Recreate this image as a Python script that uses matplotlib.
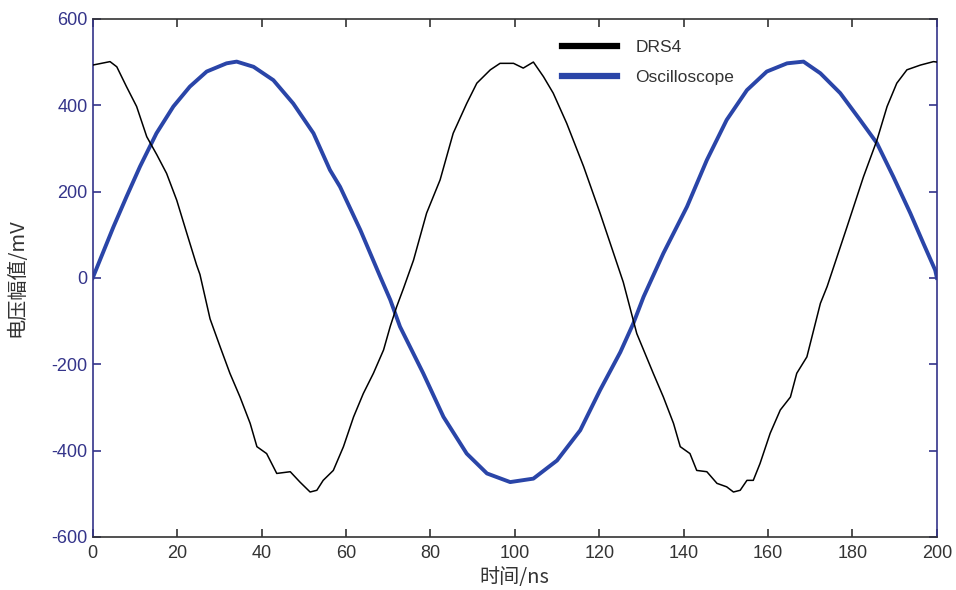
import matplotlib
matplotlib.use("Agg")
import matplotlib.pyplot as plt

# DRS4 trace (time in ns, amplitude in mV)
drs4_t = [0, 4.1, 5.7, 8.0, 10.4, 12.8, 15.2, 17.5, 19.9, 22.3, 24.6, 25.4,
          27.8, 30.2, 32.5, 34.9, 37.3, 38.9, 41.2, 43.6, 46.8, 49.1, 51.5, 53.1,
          54.6, 57.0, 59.4, 61.8, 64.1, 66.5, 68.9, 70.5, 72.0, 73.6, 76.0, 79.1,
          82.3, 85.4, 88.6, 91.0, 94.2, 96.5, 99.7, 102.0, 104.4, 106.8, 109.1,
          112.3, 116.3, 120.2, 123.4, 125.7, 128.9, 132.8, 135.2, 137.6, 139.2,
          141.5, 143.1, 145.5, 147.9, 150.2, 151.8, 153.4, 155.0, 156.5, 158.1,
          160.5, 162.9, 165.3, 166.8, 169.2, 170.8, 172.4, 174.0, 178.7, 182.6,
          185.8, 188.2, 190.5, 192.9, 196.1, 199.2, 200]
drs4_v = [493, 501, 489, 443, 397, 327, 285, 242, 180, 103, 30, 8,
          -95, -160, -221, -276, -337, -391, -407, -453, -449, -473, -496, -492,
          -469, -446, -391, -322, -268, -221, -167, -112, -67, -25, 41, 150,
          227, 335, 404, 451, 482, 497, 497, 486, 500, 466, 428,
          358, 258, 150, 57, -10, -129, -221, -276, -337, -391,
          -407, -446, -449, -476, -484, -496, -492, -469, -469, -430,
          -360, -306, -276, -221, -183, -121, -59, -20, 118, 234,
          319, 397, 451, 482, 493, 501, 500]

# Oscilloscope trace
osc_t = [0, 1.7, 4.9, 8.0, 11.2, 15.1, 19.1, 23.0, 27.0, 31.7, 34.1, 38.1,
         42.8, 47.5, 52.3, 56.2, 58.6, 63.4, 68.1, 70.5, 72.8, 78.3, 83.1,
         88.6, 93.4, 98.9, 104.4, 110.0, 115.5, 120.2, 125.0, 128.1, 130.5,
         135.2, 140.8, 145.5, 150.2, 155.0, 159.7, 164.5, 168.4, 172.4, 177.1,
         181.8, 185.8, 189.7, 193.7, 196.8, 199.6, 200]
osc_v = [0, 41, 118, 188, 258, 335, 397, 443, 478, 497, 501, 489,
         458, 404, 335, 250, 211, 111, 3, -51, -113, -221, -322,
         -407, -453, -473, -465, -423, -353, -260, -172, -105, -44,
         57, 165, 273, 366, 435, 478, 497, 501, 474, 428,
         366, 312, 234, 150, 80, 18, 0]

x_ticks = [0, 20, 40, 60, 80, 100, 120, 140, 160, 180, 200]
y_ticks = [-600, -400, -200, 0, 200, 400, 600]

navy = "#34348a"
gray = "#333333"

plt.rcParams["font.family"] = ["Liberation Sans", "DejaVu Sans"]
plt.rcParams["axes.unicode_minus"] = False

fig = plt.figure(figsize=(9.56, 5.90), dpi=100)
ax = fig.add_axes([0.097, 0.090, 0.883, 0.878])

ax.plot(osc_t, osc_v, color="#2a45a8", linewidth=2.8, label="Oscilloscope", zorder=2)
ax.plot(drs4_t, drs4_v, color="black", linewidth=1.1, label="DRS4", zorder=3)

ax.set_xlim(0, 200)
ax.set_ylim(-600, 600)
ax.set_xticks(x_ticks)
ax.set_yticks(y_ticks)

# matlab-style box: ticks inward on all four sides
ax.tick_params(axis="both", direction="in", length=6, width=1.2,
               top=True, right=True, labelsize=13)
ax.tick_params(axis="y", colors=navy, labelcolor=navy)
ax.tick_params(axis="x", colors=gray, labelcolor=gray, pad=6)
ax.spines["left"].set_color(navy)
ax.spines["right"].set_color(navy)
ax.spines["top"].set_color(gray)
ax.spines["bottom"].set_color(gray)
for s in ax.spines.values():
    s.set_linewidth(1.2)

cjk = ["Noto Sans CJK SC", "DejaVu Sans"]
ax.set_xlabel("时间/ns", fontsize=14.5, color=gray, family=cjk)
ax.set_ylabel("电压幅值/mV", fontsize=14.5, color=gray, family=cjk)
ax.xaxis.set_label_coords(0.5, -0.058)
ax.yaxis.set_label_coords(-0.077, 0.50)

# legend with DRS4 first, no frame
handles, labels = ax.get_legend_handles_labels()
leg = ax.legend(handles[::-1], labels[::-1], loc="upper left",
                bbox_to_anchor=(0.537, 0.99), frameon=False, fontsize=12.5,
                handlelength=3.2, handletextpad=1.05, labelspacing=0.85)
for line in leg.get_lines():
    line.set_linewidth(4.5)
for txt in leg.get_texts():
    txt.set_color(gray)

fig.savefig("out.png", dpi=100)
